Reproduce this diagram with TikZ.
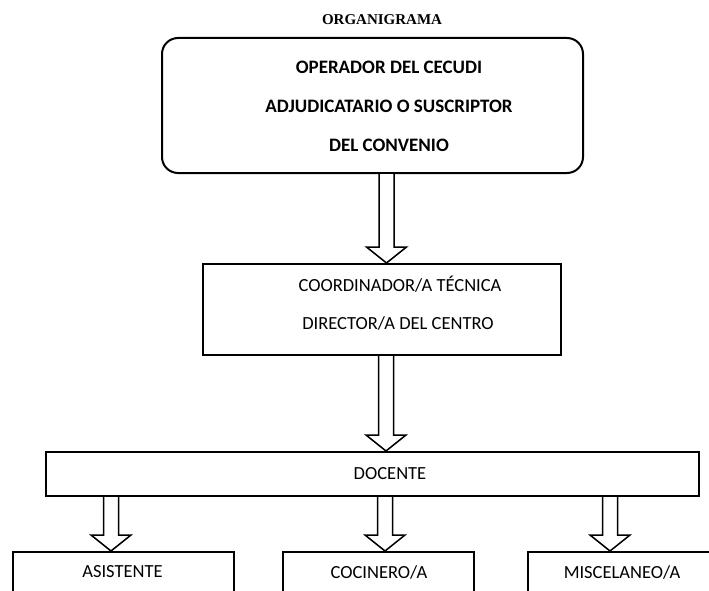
\documentclass[tikz,border=0pt]{standalone}
\usepackage{fontspec}
\setmainfont{Carlito}
\newfontfamily\titlefont{Liberation Serif}
\usetikzlibrary{calc}
\tikzset{
  box/.style={draw=black, line width=2pt, fill=white, inner sep=0pt},
  lbl/.style={inner sep=0pt, font=\fontsize{18.5}{22}\selectfont},
  blbl/.style={inner sep=0pt, font=\fontsize{19}{22}\selectfont\bfseries},
  blockarrow/.style={draw=black, line width=1.5pt, fill=white, line join=miter},
}
\newcommand{\blkarrow}[3]{%
  \draw[blockarrow] let \p1=(#2.south -| #1), \p2=(#3.north -| #1) in
    (\x1-7.5pt,\y1) -- (\x1-7.5pt,\y2+16pt) -- (\x1-20pt,\y2+16pt) -- (\x1,\y2)
    -- (\x1+20pt,\y2+16pt) -- (\x1+7.5pt,\y2+16pt) -- (\x1+7.5pt,\y1);
}
\begin{document}
\begin{tikzpicture}[x=1pt,y=-1pt]
\useasboundingbox (0,0) rectangle (709,591);
% title
\node[inner sep=0pt, font=\titlefont\fontsize{15}{18}\selectfont\bfseries] (title) at (382,20) {ORGANIGRAMA};
% top box
\node[box, rounded corners=16pt, minimum width=421pt, minimum height=135pt] (op) at (372.5,105.5) {};
\node[blbl] (op1) at (389,67) {OPERADOR DEL CECUDI};
\node[blbl] (op2) at (389,106) {ADJUDICATARIO O SUSCRIPTOR};
\node[blbl] (op3) at (389,145) {DEL CONVENIO};
% coordinator box
\node[box, minimum width=358pt, minimum height=91pt] (coord) at (382,309.5) {};
\node[lbl] (co1) at (400,284) {COORDINADOR/A TÉCNICA};
\node[lbl] (co2) at (398,323) {DIRECTOR/A DEL CENTRO};
% docente
\node[box, minimum width=653pt, minimum height=44pt] (doc) at (372.5,474) {};
\node[lbl] (doct) at (390,474) {DOCENTE};
% bottom boxes
\node[box, minimum width=221pt, minimum height=48pt] (asis) at (123.5,576) {};
\node[lbl] (asist) at (122.5,572) {ASISTENTE};
\node[box, minimum width=191pt, minimum height=48pt] (coc) at (378.5,576) {};
\node[lbl] (coct) at (379,572) {COCINERO/A};
\node[box, minimum width=184pt, minimum height=48pt] (misc) at (620,576) {};
\node[lbl] (misct) at (622,572) {MISCELANEO/A};
% arrow axes
\coordinate (ax1) at (386.5,0);
\coordinate (ax2) at (386,0);
\coordinate (ax3) at (111,0);
\coordinate (ax4) at (385,0);
\coordinate (ax5) at (610,0);
\blkarrow{ax1}{op}{coord}
\blkarrow{ax2}{coord}{doc}
\blkarrow{ax3}{doc}{asis}
\blkarrow{ax4}{doc}{coc}
\blkarrow{ax5}{doc}{misc}
\end{tikzpicture}
\end{document}
